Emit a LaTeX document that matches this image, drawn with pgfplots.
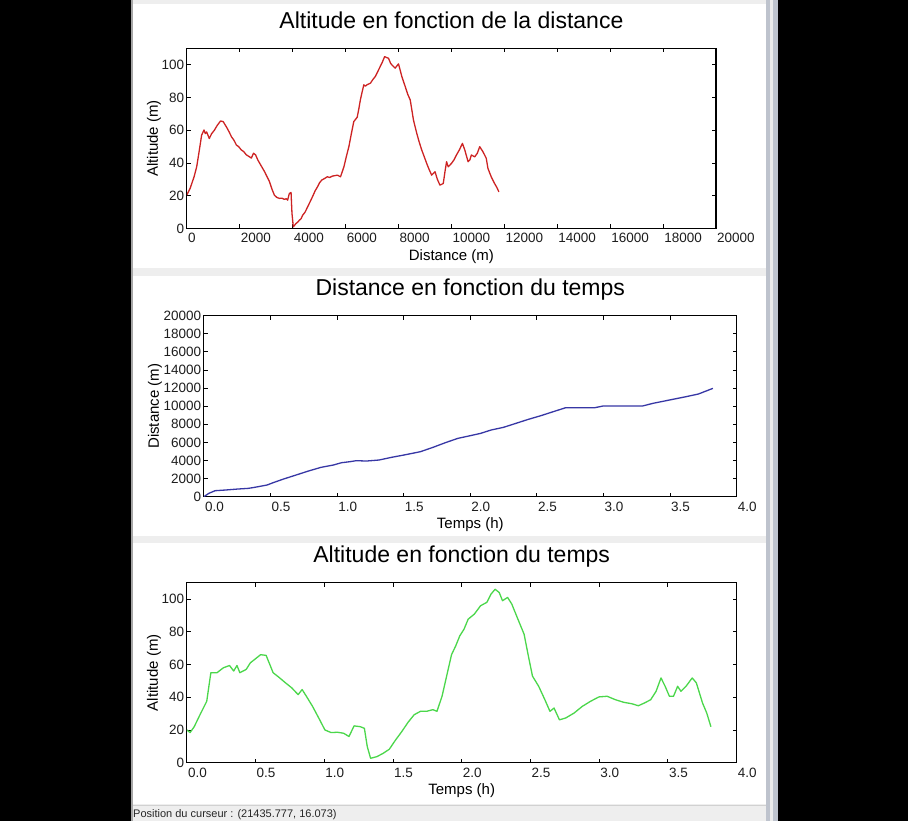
\documentclass[border=0pt]{standalone}
\usepackage{pgfplots}
\pgfplotsset{compat=1.18}
\usepackage{fontspec}
\setmainfont{Liberation Sans}

\definecolor{guigray}{RGB}{238,238,238}
\definecolor{scrollgray}{RGB}{190,195,205}
\definecolor{redline}{RGB}{205,35,35}
\definecolor{blueline}{RGB}{55,55,165}
\definecolor{greenline}{RGB}{75,215,75}
\definecolor{ticktext}{RGB}{30,30,30}

\pgfplotsset{
  panel/.style={
    scale only axis, anchor=south west,
    axis line style={line width=1.1pt, black},
    tick align=inside, tick pos=both, ticklabel pos=left,
    major tick length=4pt, tick style={line width=0.9pt, black},
    scaled ticks=false,
    /pgf/number format/assume math mode=true,
    /pgf/number format/1000 sep={},
    tick label style={font=\fontsize{13.5}{15}\selectfont, text=ticktext, inner sep=0pt},
    xticklabel style={anchor=base west, yshift=-14.5pt, xshift=1pt},
    yticklabel style={anchor=east, xshift=-2.5pt},
    title style={font=\fontsize{23}{26}\selectfont, at={([yshift=14pt]axis description cs:0.5,1)}, anchor=base, inner sep=0pt},
    xlabel style={font=\fontsize{15}{17}\selectfont, at={([yshift=-32pt]axis description cs:0.5,0)}, anchor=base, inner sep=0pt},
    ylabel style={font=\fontsize{15}{17}\selectfont, inner sep=0pt, anchor=base},
    every axis plot/.append style={line width=1.3pt, mark=none, line join=round},
  },
  hours/.style={
    xmin=0, xmax=4, xtick={0,0.5,...,4},
    xticklabel style={/pgf/number format/.cd, fixed, fixed zerofill, precision=1},
  },
}

\begin{document}
\begin{tikzpicture}[x=1pt,y=1pt]
\path[use as bounding box] (0,0) rectangle (908,821);
\fill[black] (0,0) rectangle (908,821);
\fill[guigray] (131,0) rectangle (778,821);
\fill[black!35] (131,0) rectangle (133,821);
\fill[white] (133,553) rectangle (766,817);
\fill[white] (133,285) rectangle (766,545);
\fill[white] (133,17) rectangle (766,278);
\draw[black!18] (133,16) -- (766,16);
\fill[scrollgray] (766,0) rectangle (778,821);
\fill[black!8] (770,0) rectangle (773,821);
\node[anchor=base west, inner sep=0pt, font=\fontsize{11}{13}\selectfont, text=black!85] at (133,3.2) {Position du curseur : (21435.777, 16.073)};

% Altitude vs distance
\begin{axis}[panel,
  at={(186.8pt,592.5pt)}, width=529.2pt, height=180pt,
  xmin=0, xmax=20000, ymin=0, ymax=110,
  xtick={0,2000,...,20000}, ytick={0,20,...,100},
  title={Altitude en fonction de la distance},
  xlabel={Distance (m)},
  ylabel={Altitude (m)},
  ylabel style={at={([xshift=-29pt]axis description cs:0,0.5)}},
]
\addplot[redline] table {
x y
0 20.4
125 24.5
275 31.6
375 37.8
475 48
560 57
650 60.2
700 58
750 59
800 57
850 55
940 58
1040 60
1150 63
1275 65.7
1375 65.3
1500 62
1600 59
1690 56
1780 54
1875 51
1960 50
2060 48
2150 47
2250 45
2350 44
2440 43
2520 46
2600 45
2680 42
2750 40
2940 34.7
3125 28.6
3220 24
3310 20.4
3400 19
3500 18.4
3600 18.5
3690 17.8
3760 18.2
3810 17.3
3875 21.4
3940 22
3975 9.2
4025 1
4125 3
4200 4
4250 5
4320 6
4375 8
4470 10
4560 13
4650 16
4750 19.4
4850 23
4940 25.5
5020 28
5100 29.6
5200 30.5
5310 31.6
5400 31.2
5500 32
5600 32.3
5690 32.6
5810 31.6
5940 37.8
6030 44
6125 50
6220 58
6310 65.3
6440 68
6500 73
6560 78.6
6620 83
6690 87.8
6750 87
6810 87.8
6940 88.8
7030 91
7125 92.9
7220 96
7310 99
7400 102
7475 105
7550 104.5
7625 104
7700 101
7750 100
7875 98
8000 100.6
8060 97
8128 92.8
8255 86.7
8350 82
8443 78.6
8500 73
8566 66.3
8690 58.2
8780 53
8878 48
8970 44
9066 39.8
9160 36
9253 32.6
9381 34.7
9470 30
9568 26.5
9692 27.5
9760 35
9817 40.8
9880 37.7
10004 39.8
10100 42
10191 44.9
10300 48
10416 52
10506 48
10630 40.8
10700 42
10755 44.9
10882 43.8
10980 46
11069 50
11193 46.9
11317 42.9
11381 36.7
11505 31.6
11632 27.5
11720 25
11794 22.4
};
\end{axis}

% Distance vs time
\begin{axis}[panel, hours,
  at={(203.9pt,324.3pt)}, width=532.7pt, height=181pt,
  ymin=0, ymax=20000, ytick={0,2000,...,20000},
  title={Distance en fonction du temps},
  xlabel={Temps (h)},
  ylabel={Distance (m)},
  ylabel style={at={([xshift=-45pt]axis description cs:0,0.5)}},
]
\addplot[blueline] table {
x y
0 0
0.037 368
0.084 663
0.162 737
0.255 847
0.333 920
0.38 1031
0.474 1289
0.52 1547
0.598 1952
0.692 2394
0.785 2836
0.879 3241
0.972 3499
1.034 3757
1.097 3867
1.143 3978
1.221 3941
1.315 4051
1.408 4346
1.502 4604
1.626 4972
1.72 5451
1.813 5967
1.907 6445
2.0 6740
2.078 6998
2.156 7366
2.249 7661
2.343 8103
2.436 8545
2.53 8950
2.623 9392
2.717 9834
2.81 9834
2.935 9834
2.997 10018
3.121 10018
3.293 10018
3.371 10312
3.495 10680
3.62 11049
3.713 11344
3.822 11970
};
\end{axis}

% Altitude vs time
\begin{axis}[panel, hours,
  at={(186.8pt,58.3pt)}, width=549.8pt, height=180pt,
  ymin=0, ymax=110, ytick={0,20,...,100},
  title={Altitude en fonction du temps},
  xlabel={Temps (h)},
  ylabel={Altitude (m)},
  ylabel style={at={([xshift=-29pt]axis description cs:0,0.5)}},
]
\addplot[greenline] table {
x y
0 20
0.024 18.4
0.054 22
0.1 30
0.145 37.5
0.175 55
0.22 55
0.266 58
0.311 59.4
0.341 56
0.365 59.4
0.386 55
0.432 57
0.462 61
0.507 64
0.537 66
0.577 65.6
0.628 55
0.673 52
0.718 48.8
0.764 45.7
0.81 41.6
0.839 44.7
0.87 40.6
0.915 34.4
0.96 27.3
1.005 20
1.05 18.4
1.096 18.6
1.141 18
1.18 16
1.217 22.5
1.262 22
1.292 21
1.313 9.8
1.337 2.7
1.383 3.7
1.428 5.7
1.473 8.2
1.519 13.9
1.564 19
1.609 24.6
1.654 29.3
1.7 31.4
1.745 31.4
1.79 32.4
1.82 31.4
1.857 40.6
1.896 55
1.926 66
1.956 71.3
1.986 77.5
2.017 81.6
2.047 87.7
2.092 90.8
2.137 95.9
2.183 98
2.213 103
2.243 106
2.273 104
2.297 99
2.334 101
2.364 97
2.409 87.7
2.454 78.5
2.485 65.2
2.515 52.9
2.56 46.7
2.605 38.5
2.642 31.4
2.672 33.4
2.711 26.2
2.756 27.3
2.817 30.3
2.877 34.4
2.937 37.5
2.998 40.2
3.058 40.6
3.118 38.5
3.179 36.9
3.239 36
3.285 34.8
3.33 36.5
3.375 38.5
3.414 43.6
3.45 51.8
3.48 46.7
3.511 40.6
3.541 40.6
3.571 46.7
3.595 43.6
3.632 46.7
3.677 51.8
3.707 48.8
3.752 36.5
3.783 30.3
3.813 22
};
\end{axis}
\end{tikzpicture}
\end{document}
